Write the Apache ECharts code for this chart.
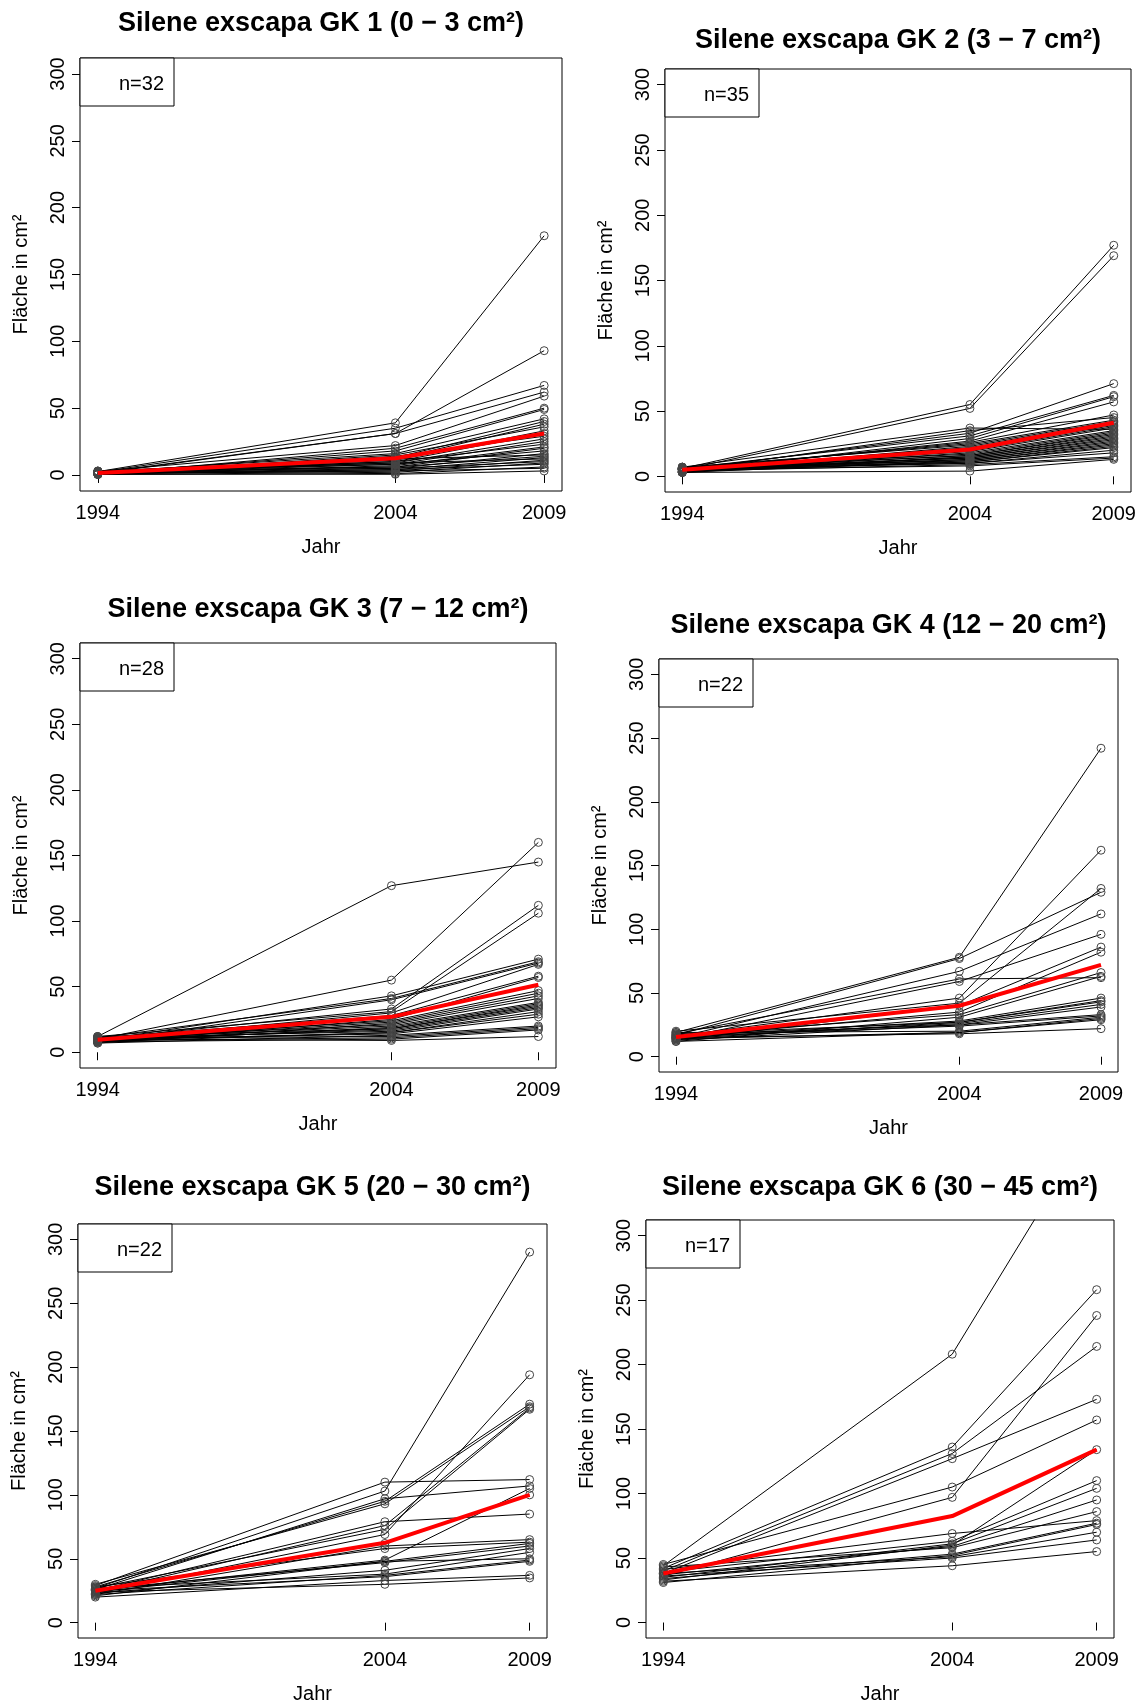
<!DOCTYPE html>
<html>
<head>
<meta charset="utf-8">
<script src="https://cdn.jsdelivr.net/npm/echarts@6/dist/echarts.min.js"></script>
<style>
html, body { margin: 0; padding: 0; background: #fff; }
#main { width: 1144px; height: 1705px; }
</style>
</head>
<body>
<div id="main"></div>
<script>
var years = [1994, 2004, 2009];
var yTicks = [0, 50, 100, 150, 200, 250, 300];
var titles = [
    'Silene exscapa GK 1 (0 \u2212 3 cm\u00b2)',
    'Silene exscapa GK 2 (3 \u2212 7 cm\u00b2)',
    'Silene exscapa GK 3 (7 \u2212 12 cm\u00b2)',
    'Silene exscapa GK 4 (12 \u2212 20 cm\u00b2)',
    'Silene exscapa GK 5 (20 \u2212 30 cm\u00b2)',
    'Silene exscapa GK 6 (30 \u2212 45 cm\u00b2)'
];
var nLabels = ['n=32', 'n=35', 'n=28', 'n=22', 'n=22', 'n=17'];

// one entry per plant: area in 1994, 2004, 2009
var gk1_1994 = [2.5,1,2,1.5,2.8,0.5,1.2,2,1,3,0.8,1.5,2.2,0.6,1.8,2.6,1.1,0.4,2.9,1.4,0.9,2.3,1.7,0.7,2.1,1.3,2.7,0.3,1.6,2.4,1,0.5];
var gk1_2004 = [39,31,35,31,22,20,18,16,13,12,15,11,10,14,9,8,10,7,6,8,5,12,6,4,9,3,5,2,4,1,3,0.5];
var gk1_2009 = [179,93,67,62,59,50,49,42,40,38,36,33,31,29,27,25,23,21,20,18,16,15,14,13,12,11,10,9,8,6,5,3];
var gk1_mean = [1.5, 12.5, 31];

var gk2_1994 = [6,5,7,4,5,6,3,4,5,6,7,4,5,3,6,5,4,7,6,5,4,3,5,6,4,5,7,3,6,4,5,6,4,5,3];
var gk2_2004 = [55,52,37,35,33,31,29,27,26,25,24,23,22,21,20,19,18,17,16,16,15,15,14,14,13,13,12,12,11,11,10,10,9,8,4];
var gk2_2009 = [177,169,36,45,71,62,61,57,47,43,42,41,40,39,38,37,35,34,33,32,31,30,29,28,27,26,25,24,23,22,20,18,15,14,13];
var gk2_mean = [5, 20.5, 41];

var gk3_1994 = [12,10,9,11,8,10,12,9,11,8,10,9,7,11,10,8,12,9,10,11,8,9,10,7,11,9,8,10];
var gk3_2004 = [127,55,43,41,40,33,31,30,28,25,24,23,22,21,20,19,18,18,17,16,15,15,14,13,12,11,10,9];
var gk3_2009 = [145,160,71,69,68,112,106,67,58,57,47,45,43,41,38,37,36,35,34,33,31,29,27,20,19,18,17,12];
var gk3_mean = [9.5, 27, 51.5];

var gk4_1994 = [19,17,15,18,14,16,20,13,15,17,12,16,18,14,15,13,17,16,19,14,12,15];
var gk4_2004 = [78,77,67,61,59,46,42,40,35,33,31,28,27,27,26,25,25,24,20,19,19,18];
var gk4_2009 = [242,129,112,62,96,162,132,86,82,66,63,46,44,43,41,39,33,32,31,30,29,22];
var gk4_mean = [15.5, 40, 72];

var gk5_1994 = [29,27,26,28,30,25,24,27,23,26,22,28,25,21,24,26,23,27,22,25,20,24];
var gk5_2004 = [110,103,97,95,93,79,76,73,69,62,60,58,49,48,48,47,41,38,37,36,33,30];
var gk5_2009 = [112,290,107,171,169,85,168,167,194,100,65,63,105,62,50,60,58,55,49,48,37,35];
var gk5_mean = [25, 62.5, 100];

var gk6_1994 = [44,42,40,38,45,36,41,39,35,33,37,43,34,31,38,36,32];
var gk6_2004 = [208,136,131,127,105,97,69,63,61,60,59,58,53,52,51,50,44];
var gk6_2009 = [391,258,214,173,157,238,79,110,104,134,95,86,77,76,70,64,55];
var gk6_mean = [38, 82.5, 134];

var panels = [
    [gk1_1994, gk1_2004, gk1_2009, gk1_mean],
    [gk2_1994, gk2_2004, gk2_2009, gk2_mean],
    [gk3_1994, gk3_2004, gk3_2009, gk3_mean],
    [gk4_1994, gk4_2004, gk4_2009, gk4_mean],
    [gk5_1994, gk5_2004, gk5_2009, gk5_mean],
    [gk6_1994, gk6_2004, gk6_2009, gk6_mean]
];

// plot boxes: left, top, width, height (px)
var boxes = [
    [80, 58, 482, 433],
    [665, 69, 466, 423],
    [80, 643, 476, 425],
    [659, 659, 459, 413],
    [78, 1224, 469, 416],
    [646, 1220, 468, 420]
];
var titleY = [24, 41, 610, 626, 1188, 1188];

var myChart = echarts.init(document.getElementById('main'));

var grids = [], xAxes = [], yAxes = [], series = [], graphics = [];
var font = 'Liberation Sans';

panels.forEach(function (p, k) {
    var b = boxes[k];
    grids.push({
        left: b[0], top: b[1], width: b[2], height: b[3],
        show: true, borderColor: '#000', borderWidth: 1,
        backgroundColor: 'transparent'
    });
    xAxes.push({
        gridIndex: k, type: 'value', min: 1993.4, max: 2009.6,
        name: 'Jahr', nameLocation: 'middle', nameGap: 46,
        nameTextStyle: {fontSize: 20, color: '#000', fontFamily: font},
        axisLine: {show: false},
        axisTick: {show: true, length: 8, customValues: years, lineStyle: {color: '#000'}},
        axisLabel: {
            customValues: years, fontSize: 20, color: '#000', margin: 12, fontFamily: font,
            formatter: function (v) { return String(v); }
        },
        splitLine: {show: false}
    });
    yAxes.push({
        gridIndex: k, type: 'value', min: -12, max: 312,
        name: 'Fläche in cm²', nameLocation: 'middle', nameGap: 49, nameRotate: 90,
        nameTextStyle: {fontSize: 20, color: '#000', fontFamily: font},
        axisLine: {show: false},
        axisTick: {show: true, length: 8, customValues: yTicks, lineStyle: {color: '#000'}},
        axisLabel: {customValues: yTicks, rotate: 90, fontSize: 20, color: '#000', margin: 12, fontFamily: font},
        splitLine: {show: false}
    });
    for (var i = 0; i < p[0].length; i++) {
        series.push({
            type: 'line', xAxisIndex: k, yAxisIndex: k,
            data: [[years[0], p[0][i]], [years[1], p[1][i]], [years[2], p[2][i]]],
            symbol: 'circle', symbolSize: 8,
            itemStyle: {color: 'rgba(0,0,0,0)', borderColor: '#444', borderWidth: 1},
            lineStyle: {color: '#000', width: 1},
            silent: true, z: 2
        });
    }
    series.push({
        type: 'line', xAxisIndex: k, yAxisIndex: k,
        data: [[years[0], p[3][0]], [years[1], p[3][1]], [years[2], p[3][2]]],
        symbol: 'none',
        lineStyle: {color: '#ff0000', width: 4},
        silent: true, z: 3
    });
    graphics.push({
        type: 'text', x: b[0] + b[2] / 2, y: titleY[k], z: 20,
        style: {text: titles[k], font: 'bold 27px ' + font, fill: '#000',
                textAlign: 'center', textVerticalAlign: 'middle'}
    });
    graphics.push({
        type: 'rect', z: 20,
        shape: {x: b[0], y: b[1], width: 94, height: 48},
        style: {fill: '#fff', stroke: '#000', lineWidth: 1}
    });
    graphics.push({
        type: 'text', x: b[0] + 84, y: b[1] + 26, z: 21,
        style: {text: nLabels[k], font: '20px ' + font, fill: '#000',
                textAlign: 'right', textVerticalAlign: 'middle'}
    });
});

var option = {
    animation: false,
    textStyle: {fontFamily: font},
    grid: grids,
    xAxis: xAxes,
    yAxis: yAxes,
    series: series,
    graphic: graphics
};
myChart.setOption(option);
</script>
</body>
</html>
